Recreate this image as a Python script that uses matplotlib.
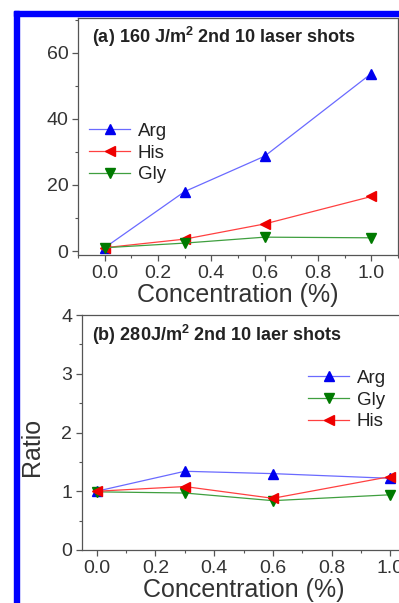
import matplotlib
matplotlib.use("Agg")
import matplotlib.pyplot as plt
import matplotlib.ticker as mticker
from matplotlib.patches import Rectangle

plt.rcParams["font.family"] = ["Liberation Sans", "DejaVu Sans"]
plt.rcParams["mathtext.fontset"] = "custom"
plt.rcParams["mathtext.rm"] = "Liberation Sans"
plt.rcParams["mathtext.bf"] = "Liberation Sans:bold"

# -- Donnees --
conc = [0.0, 0.3, 0.6, 1.0]

# (a) 160 J/m2
arg_a = [1.0, 18.0, 28.7, 53.7]
his_a = [1.0, 3.6, 8.2, 16.5]
gly_a = [1.0, 2.4, 4.2, 4.0]

# (b) 280 J/m2
arg_b = [1.00, 1.34, 1.30, 1.22]
gly_b = [0.99, 0.97, 0.84, 0.94]
his_b = [1.00, 1.08, 0.88, 1.25]

BLUE_M, BLUE_L = "#0000ee", "#6a6aff"
RED_M, RED_L = "#ee0000", "#ff4040"
GRN_M, GRN_L = "#007a00", "#3f9f3f"
AX_COL = "#555555"
TXT_COL = "#333333"

fig = plt.figure(figsize=(3.99, 6.03), dpi=100)

# cadre bleu (bord de la figure d'origine)
fig.patches.append(Rectangle((14 / 399, 0), 5 / 399, 1 - 11 / 603,
                             transform=fig.transFigure, color="#0000ff", zorder=10))
fig.patches.append(Rectangle((14 / 399, 1 - 16 / 603), 1, 5 / 603,
                             transform=fig.transFigure, color="#0000ff", zorder=10))

ax1 = fig.add_axes([78 / 399, 1 - 255 / 603, 320 / 399, 237 / 603])
ax2 = fig.add_axes([82 / 399, 1 - 550 / 603, 323 / 399, 235 / 603])


def style(ax):
    for s in ax.spines.values():
        s.set_color(AX_COL)
        s.set_linewidth(0.9)
    ax.tick_params(which="major", direction="out", length=4, width=0.9,
                   color=AX_COL, labelsize=14, labelcolor=TXT_COL, pad=3)
    ax.tick_params(which="minor", direction="out", length=2.5, width=0.8,
                   color=AX_COL)
    ax.xaxis.set_major_locator(mticker.MultipleLocator(0.2))
    ax.xaxis.set_minor_locator(mticker.MultipleLocator(0.1))
    ax.xaxis.set_major_formatter(mticker.FormatStrFormatter("%.1f"))
    ax.set_xlabel("Concentration (%)", fontsize=18, color=TXT_COL, labelpad=1)


ms = 7.5
lw = 0.9

# -- (a) --
ax1.plot(conc, arg_a, color=BLUE_L, lw=lw, marker="^", ms=ms,
         mfc=BLUE_M, mec=BLUE_M, label="Arg")
ax1.plot(conc, his_a, color=RED_L, lw=lw, marker="<", ms=ms,
         mfc=RED_M, mec=RED_M, label="His")
ax1.plot(conc, gly_a, color=GRN_L, lw=lw, marker="v", ms=ms,
         mfc=GRN_M, mec=GRN_M, label="Gly")
ax1.set_xlim(-0.1, 1.1)
ax1.set_ylim(-1.2, 70.5)
ax1.yaxis.set_major_locator(mticker.MultipleLocator(20))
ax1.yaxis.set_minor_locator(mticker.MultipleLocator(10))
style(ax1)
ax1.text(0.044, 0.92, r"(a) 160 J/m$^\mathbf{2}$ 2nd 10 laser shots",
         transform=ax1.transAxes, fontsize=13, fontweight="bold",
         color="#222222", va="center", ha="left")
ax1.legend(loc="center left", bbox_to_anchor=(0.035, 0.43), frameon=False,
           fontsize=13.5, handlelength=2.2, handletextpad=0.4,
           labelspacing=0.25, borderpad=0, borderaxespad=0,
           labelcolor="#222222")

# -- (b) --
ax2.plot(conc, arg_b, color=BLUE_L, lw=lw, marker="^", ms=ms,
         mfc=BLUE_M, mec=BLUE_M, label="Arg")
ax2.plot(conc, gly_b, color=GRN_L, lw=lw, marker="v", ms=ms,
         mfc=GRN_M, mec=GRN_M, label="Gly")
ax2.plot(conc, his_b, color=RED_L, lw=lw, marker="<", ms=ms,
         mfc=RED_M, mec=RED_M, label="His")
ax2.set_xlim(-0.05, 1.05)
ax2.set_ylim(0, 4)
ax2.yaxis.set_major_locator(mticker.MultipleLocator(1))
ax2.yaxis.set_minor_locator(mticker.MultipleLocator(0.5))
style(ax2)
ax2.text(0.031, 0.915, r"(b) 280J/m$^\mathbf{2}$ 2nd 10 laer shots",
         transform=ax2.transAxes, fontsize=13, fontweight="bold",
         color="#222222", va="center", ha="left")
ax2.legend(loc="center left", bbox_to_anchor=(0.70, 0.638), frameon=False,
           fontsize=13.5, handlelength=2.2, handletextpad=0.4,
           labelspacing=0.25, borderpad=0, borderaxespad=0,
           labelcolor="#222222")

fig.text(32 / 399, 1 - 447 / 603, "Ratio", rotation=90, fontsize=18,
         color=TXT_COL, ha="center", va="center")

fig.savefig("out.png", dpi=100)
